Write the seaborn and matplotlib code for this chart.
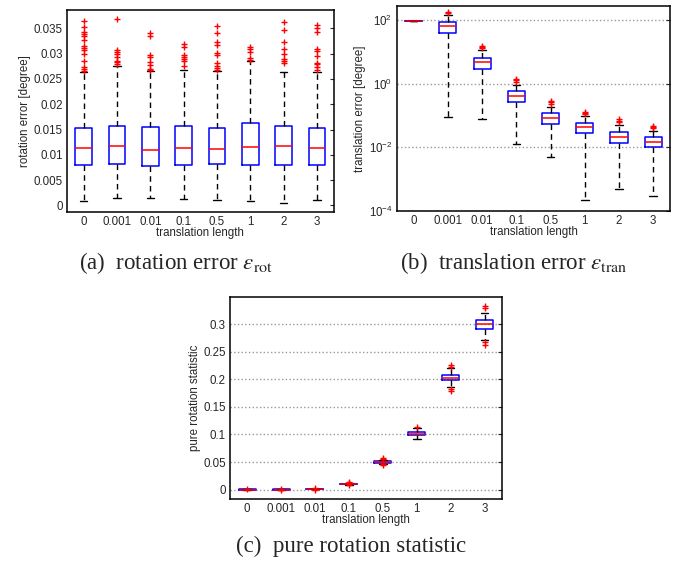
import matplotlib
matplotlib.use("Agg")
import matplotlib.pyplot as plt
import seaborn as sns

# translation lengths on the x axis
labels = ['0', '0.001', '0.01', '0.1', '0.5', '1', '2', '3']

# (a) rotation error [degree]
rot_q1 = [0.0079, 0.0081, 0.00783, 0.0079, 0.0081, 0.0080, 0.0080, 0.0079]
rot_med = [0.01145, 0.01178, 0.01105, 0.01138, 0.01118, 0.01164, 0.0117, 0.01132]
rot_q3 = [0.01533, 0.0158, 0.01546, 0.0158, 0.0154, 0.0162, 0.0157, 0.01533]
rot_lo = [0.00092, 0.00145, 0.00145, 0.00125, 0.00105, 0.00086, 0.0005, 0.0011]
rot_hi = [0.02645, 0.0275, 0.0265, 0.0267, 0.0266, 0.0285, 0.02645, 0.0264]
rot_out = [
    [0.0365, 0.0353, 0.0342, 0.0338, 0.0335, 0.0327, 0.0316, 0.0312, 0.0307, 0.0300, 0.0285, 0.0273, 0.0269, 0.0266],
    [0.0368, 0.0307, 0.0303, 0.0299, 0.0293, 0.0286, 0.0283, 0.0279],
    [0.0340, 0.0335, 0.0297, 0.0293, 0.0284, 0.0277, 0.0270, 0.0268],
    [0.0320, 0.0314, 0.0297, 0.0293, 0.0289, 0.0285, 0.0276],
    [0.0355, 0.0340, 0.0322, 0.0317, 0.0302, 0.0297, 0.0281, 0.0276, 0.0272, 0.0267],
    [0.0314, 0.0309, 0.0303, 0.0292, 0.0288],
    [0.0363, 0.0347, 0.0323, 0.0310, 0.0299, 0.0290, 0.0285, 0.0281],
    [0.0357, 0.0351, 0.0342, 0.0309, 0.0305, 0.0295, 0.0282, 0.0279, 0.0274, 0.0268],
]

# (b) translation error [degree], log scale
tr_q1 = [90, 39.3, 2.94, 0.261, 0.0523, 0.0274, 0.0133, 0.0102]
tr_med = [90, 63.4, 4.64, 0.412, 0.0845, 0.0431, 0.021, 0.015]
tr_q3 = [90, 86.6, 6.49, 0.59, 0.118, 0.0575, 0.0294, 0.0215]
tr_lo = [90, 0.0866, 0.0767, 0.0127, 0.0051, 0.000215, 0.00048, 0.0003]
tr_hi = [90, 145, 11.3, 0.91, 0.19, 0.093, 0.051, 0.0316]
tr_out = [
    [],
    [165, 175],
    [13.0, 14.3, 15.5],
    [1.1, 1.25, 1.35],
    [0.23, 0.26, 0.28],
    [0.11, 0.12, 0.13],
    [0.06, 0.068, 0.077],
    [0.039, 0.042, 0.045],
]

# (c) pure rotation statistic
pr_q1 = [0.0, 0.00005, 0.0008, 0.0095, 0.049, 0.0986, 0.1978, 0.292]
pr_med = [0.0002, 0.0002, 0.001, 0.0100, 0.0505, 0.101, 0.202, 0.3006]
pr_q3 = [0.0004, 0.0004, 0.0012, 0.0105, 0.052, 0.104, 0.2074, 0.307]
pr_lo = [0.0, 0.0, 0.0004, 0.0085, 0.0465, 0.0925, 0.1857, 0.2716]
pr_hi = [0.0007, 0.0007, 0.0017, 0.0115, 0.0545, 0.111, 0.220, 0.32]
pr_out = [
    [0.0008],
    [-0.0005, 0.0009],
    [0.0002, 0.0022],
    [0.0075, 0.0125, 0.013],
    [0.0445, 0.0465, 0.055, 0.0575],
    [0.114],
    [0.178, 0.183, 0.222, 0.226],
    [0.262, 0.268, 0.329, 0.332],
]


def make_stats(q1, med, q3, lo, hi, out):
    return [dict(q1=a, med=m, q3=b, whislo=l, whishi=h, fliers=f)
            for a, m, b, l, h, f in zip(q1, med, q3, lo, hi, out)]


def draw_box(ax, stats):
    ax.bxp(stats, positions=range(1, 9), widths=0.5, capwidths=0.22,
           boxprops=dict(color='blue', lw=1.1),
           medianprops=dict(color='red', lw=1.1),
           whiskerprops=dict(color='black', ls=(0, (4, 3)), lw=1),
           capprops=dict(color='black', lw=1),
           flierprops=dict(marker='+', markeredgecolor='red', markersize=5,
                           markeredgewidth=1, ls='none'))
    ax.set_xlim(0.5, 8.5)
    ax.set_xticks(range(1, 9))
    ax.set_xticklabels(labels)
    ax.set_xlabel('translation length', labelpad=-1)
    ax.tick_params(axis='x', length=0, pad=3)
    ax.tick_params(axis='y', direction='in', length=3, right=True, pad=3)
    for s in ax.spines.values():
        s.set_linewidth(1.1)
        s.set_color('black')


sns.set_style('white')
plt.rcParams['font.family'] = ['Liberation Sans', 'DejaVu Sans']
plt.rcParams['font.size'] = 8.3
plt.rcParams['mathtext.fontset'] = 'stix'

fig = plt.figure(figsize=(6.91, 5.61), dpi=100)

ax1 = fig.add_axes([0.097, 0.622, 0.386, 0.360])
draw_box(ax1, make_stats(rot_q1, rot_med, rot_q3, rot_lo, rot_hi, rot_out))
ax1.set_ylim(-0.0013, 0.0386)
ax1.set_yticks([0, 0.005, 0.01, 0.015, 0.02, 0.025, 0.03, 0.035])
ax1.set_yticklabels(['0', '0.005', '0.01', '0.015', '0.02', '0.025', '0.03', '0.035'])
ax1.set_ylabel('rotation error [degree]', labelpad=2)

ax2 = fig.add_axes([0.574, 0.624, 0.396, 0.365])
ax2.set_yscale('log')
draw_box(ax2, make_stats(tr_q1, tr_med, tr_q3, tr_lo, tr_hi, tr_out))
ax2.set_ylim(1e-4, 270)
ax2.set_yticks([1e-4, 1e-2, 1, 1e2])
ax2.minorticks_off()
ax2.yaxis.grid(True, color='#999999', ls=':', lw=1)
ax2.set_ylabel('translation error [degree]', labelpad=2)

ax3 = fig.add_axes([0.333, 0.1105, 0.393, 0.360])
draw_box(ax3, make_stats(pr_q1, pr_med, pr_q3, pr_lo, pr_hi, pr_out))
ax3.set_ylim(-0.017, 0.349)
ax3.set_yticks([0, 0.05, 0.1, 0.15, 0.2, 0.25, 0.3])
ax3.set_yticklabels(['0', '0.05', '0.1', '0.15', '0.2', '0.25', '0.3'])
ax3.yaxis.grid(True, color='#999999', ls=':', lw=1)
ax3.set_ylabel('pure rotation statistic', labelpad=2)

cap = dict(ha='center', va='center', fontsize=16.5, family=['Liberation Serif', 'DejaVu Serif'])
fig.text(176 / 691, 1 - 263 / 561, r'(a)  rotation error $\varepsilon_{\mathrm{rot}}$', **cap)
fig.text(514 / 691, 1 - 263 / 561, r'(b)  translation error $\varepsilon_{\mathrm{tran}}$', **cap)
fig.text(351 / 691, 1 - 546 / 561, '(c)  pure rotation statistic', **cap)

fig.savefig('out.png', dpi=100)
